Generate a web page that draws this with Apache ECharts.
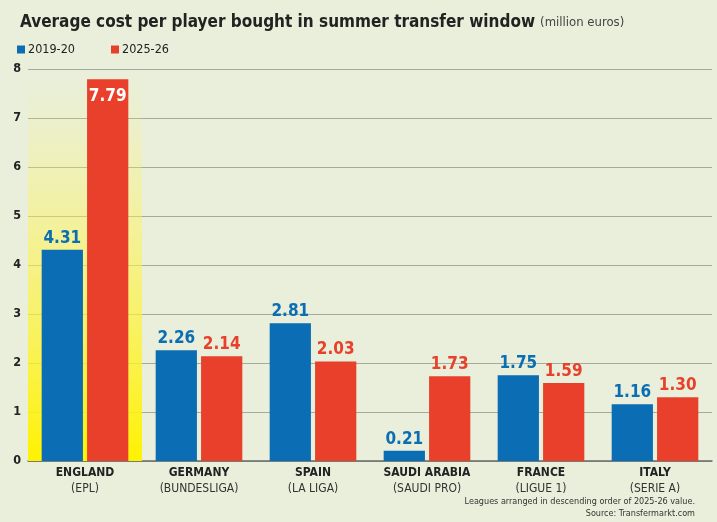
<!DOCTYPE html>
<html>
<head>
<meta charset="utf-8">
<script src="https://cdn.jsdelivr.net/npm/echarts@6/dist/echarts.min.js"></script>
<style>
  html, body { margin: 0; padding: 0; background: #e9efda; }
  #chart { width: 717px; height: 522px; }
</style>
</head>
<body>
<div id="chart"></div>
<script>
// leagues, ordered by 2025-26 value
var countries = ["ENGLAND", "GERMANY", "SPAIN", "SAUDI ARABIA", "FRANCE", "ITALY"];
var leagues = ["(EPL)", "(BUNDESLIGA)", "(LA LIGA)", "(SAUDI PRO)", "(LIGUE 1)", "(SERIE A)"];
var season2019 = [4.31, 2.26, 2.81, 0.21, 1.75, 1.16];
var season2025 = [7.79, 2.14, 2.03, 1.73, 1.59, 1.30];
var highlight = [7.85, null, null, null, null, null];
var yTicks = [0, 1, 2, 3, 4, 5, 6, 7, 8];

var BLUE = "#0b6db3";
var RED = "#e8402b";
var FONT = "'DejaVu Sans Condensed', 'Liberation Sans Narrow', sans-serif";

var chart = echarts.init(document.getElementById("chart"), null, { renderer: "canvas" });

function valueLabel(color) {
  return {
    show: true,
    position: "top",
    distance: 3,
    color: color,
    fontFamily: FONT,
    fontWeight: "bold",
    fontSize: 17,
    formatter: function (p) { return p.value.toFixed(2); }
  };
}

var redData = season2025.map(function (v, i) {
  if (i === 0) {
    return { value: v, label: { position: "insideTop", color: "#ffffff", distance: 9 } };
  }
  return v;
});

chart.setOption({
  backgroundColor: "#e9efda",
  animation: false,
  title: {
    left: 15,
    top: 9,
    text: "{b|Average cost per player bought in summer transfer window} {n|(million euros)}",
    textStyle: {
      rich: {
        b: { fontFamily: FONT, fontWeight: "bold", fontSize: 17, color: "#222222" },
        n: { fontFamily: FONT, fontWeight: "normal", fontSize: 13, color: "#444444" }
      }
    }
  },
  legend: {
    left: 12,
    top: 38,
    itemWidth: 8,
    itemHeight: 8,
    itemGap: 36,
    icon: "rect",
    data: ["2019-20", "2025-26"],
    textStyle: { fontFamily: FONT, fontSize: 12.5, color: "#222222", padding: [0, 0, 0, -2] }
  },
  grid: { left: 28, right: 5, top: 69, bottom: 61 },
  xAxis: [
    {
      type: "category",
      data: countries,
      axisTick: { show: false },
      axisLine: { lineStyle: { color: "#6b6b6b", width: 1.5 } },
      axisLabel: {
        interval: 0,
        margin: 3,
        lineHeight: 16,
        formatter: function (v, i) { return "{c|" + v + "}\n{l|" + leagues[i] + "}"; },
        rich: {
          c: { fontFamily: FONT, fontWeight: "bold", fontSize: 12, color: "#222222", lineHeight: 17 },
          l: { fontFamily: FONT, fontSize: 12, color: "#333333", lineHeight: 16 }
        }
      }
    },
    { type: "category", data: countries, show: false }
  ],
  yAxis: {
    type: "value",
    min: 0,
    max: 8,
    interval: 1,
    axisLine: { show: false },
    axisTick: { show: false },
    splitLine: { lineStyle: { color: "#a3aaa0", width: 1 } },
    axisLabel: {
      margin: 7,
      fontFamily: FONT,
      fontWeight: "bold",
      fontSize: 12.5,
      color: "#222222",
      formatter: function (v) { return yTicks.indexOf(v) >= 0 ? String(v) : ""; }
    }
  },
  series: [
    {
      name: "highlight",
      type: "bar",
      xAxisIndex: 1,
      barWidth: "100%",
      silent: true,
      z: 1,
      itemStyle: {
        color: new echarts.graphic.LinearGradient(0, 0, 0, 1, [
          { offset: 0, color: "rgba(255,245,120,0)" },
          { offset: 0.45, color: "rgba(255,243,80,0.55)" },
          { offset: 1, color: "#fff200" }
        ])
      },
      data: highlight
    },
    {
      name: "2019-20",
      type: "bar",
      z: 3,
      barGap: "10%",
      barCategoryGap: "24%",
      itemStyle: { color: BLUE },
      label: valueLabel(BLUE),
      data: season2019
    },
    {
      name: "2025-26",
      type: "bar",
      z: 3,
      itemStyle: { color: RED },
      label: valueLabel(RED),
      data: redData
    }
  ],
  graphic: [
    {
      type: "text",
      right: 22,
      top: 497,
      style: {
        text: "Leagues arranged in descending order of 2025-26 value.",
        fontFamily: FONT,
        fontSize: 9,
        fill: "#333333",
        textAlign: "right"
      }
    },
    {
      type: "text",
      right: 22,
      top: 509,
      style: {
        text: "Source: Transfermarkt.com",
        fontFamily: FONT,
        fontSize: 9,
        fill: "#333333",
        textAlign: "right"
      }
    }
  ]
});
</script>
</body>
</html>
